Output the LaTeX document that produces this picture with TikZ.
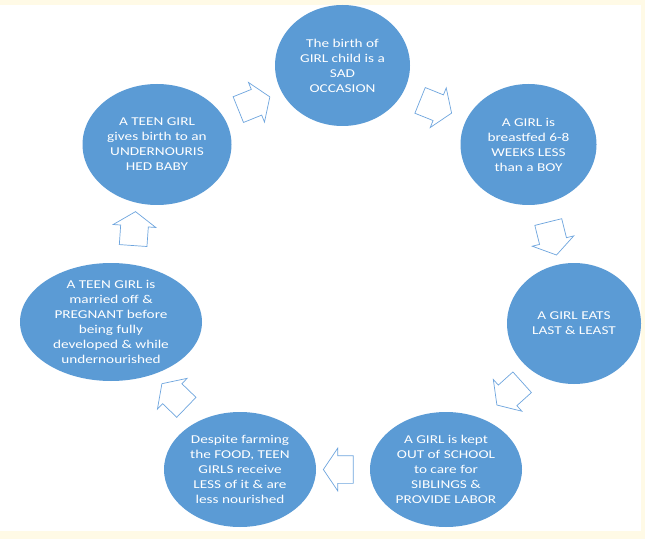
\documentclass[tikz,border=0pt]{standalone}
\usepackage{fontspec}
\setmainfont{Carlito}[FakeStretch=1.27]
\usetikzlibrary{shapes.geometric,shapes.arrows,calc}
\definecolor{bubbleblue}{RGB}{91,155,213}
\definecolor{arrowline}{RGB}{110,165,222}
\definecolor{cream}{RGB}{255,250,230}

\begin{document}
\begin{tikzpicture}[x=1pt, y=1pt,
    every node/.style={font=\fontsize{12}{15}\selectfont},
    bubble/.style={ellipse, fill=bubbleblue, inner sep=0pt},
    words/.style={text=white, align=center, inner sep=0pt},
    turn/.style={single arrow, draw=arrowline, fill=white, line width=0.7pt, inner xsep=0pt, inner ysep=13.5pt, minimum height=34pt, single arrow head extend=7.5pt, single arrow tip angle=112}]
    % page
    \fill[cream] (0,0) rectangle (645,539);
    \fill[white] (0,8) rectangle (641,534);

    % the cycle
    \node[bubble, minimum width=135pt, minimum height=121pt] (birth) at (342.5,473.5) {};
    \node[bubble, minimum width=136pt, minimum height=121pt] (feed) at (528.5,394.5) {};
    \node[bubble, minimum width=134pt, minimum height=121pt] (eats) at (574,215.5) {};
    \node[bubble, minimum width=152pt, minimum height=115pt] (school) at (446,69.5) {};
    \node[bubble, minimum width=152pt, minimum height=115pt] (farm) at (240,69.5) {};
    \node[bubble, minimum width=182pt, minimum height=118pt] (married) at (111,217) {};
    \node[bubble, minimum width=149pt, minimum height=121pt] (teen) at (157,394.5) {};

    \node[words] (birthtxt) at (birth) {The birth of\\GIRL child is a\\SAD\\OCCASION};
    \node[words] (feedtxt) at (feed) {A GIRL is\\breastfed 6-8\\WEEKS LESS\\than a BOY};
    \node[words] (eatstxt) at (eats) {A GIRL EATS\\LAST \& LEAST};
    \node[words] (schooltxt) at (school) {A GIRL is kept\\OUT of SCHOOL\\to care for\\SIBLINGS \&\\PROVIDE LABOR};
    \node[words] (farmtxt) at (farm) {Despite farming\\the FOOD, TEEN\\GIRLS receive\\LESS of it \& are\\less nourished};
    \node[words] (marriedtxt) at (married) {A TEEN GIRL is\\married off \&\\PREGNANT before\\being fully\\developed \& while\\undernourished};
    \node[words] (teentxt) at (teen) {A TEEN GIRL\\gives birth to an\\UNDERNOURIS\\HED BABY};

    % block arrows between the bubbles
    \node[turn, xshift=-4pt, rotate=-22] (a1) at ($(birth)!0.5!(feed)$) {};
    \node[turn, rotate=-76] (a2) at ($(feed)!0.5!(eats)$) {};
    \node[turn, xshift=3pt, yshift=6pt, rotate=-138] (a3) at ($(eats)!0.5!(school)$) {};
    \node[turn, rotate=180, minimum height=30pt] (a4) at ($(school)!0.5!(farm)$) {};
    \node[turn, xshift=2pt, yshift=-3pt, rotate=136] (a5) at ($(farm)!0.5!(married)$) {};
    \node[turn, rotate=86] (a6) at ($(married)!0.5!(teen)$) {};
    \node[turn, rotate=22] (a7) at ($(teen)!0.5!(birth)$) {};
\end{tikzpicture}
\end{document}
